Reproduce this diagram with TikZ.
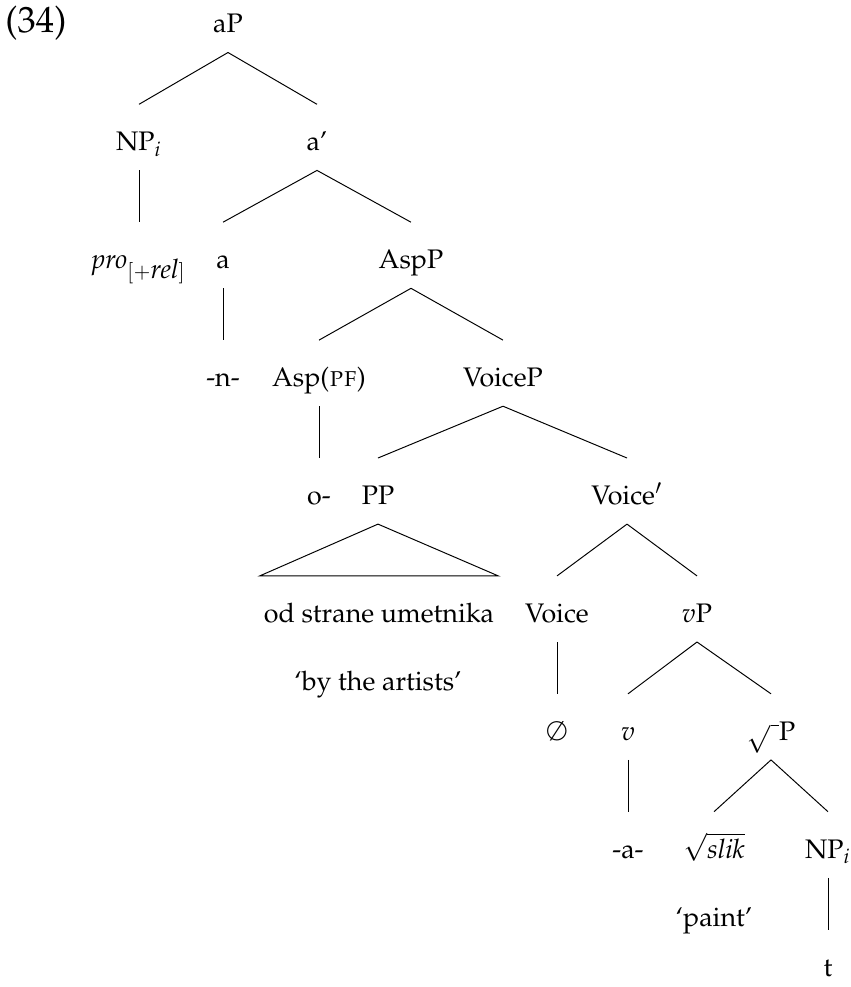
\documentclass[tikz,border=0pt]{standalone}
\usepackage[T1]{fontenc}
\usepackage{mathpazo}
\begin{document}
\begin{tikzpicture}[x=0.41pt,y=-0.41pt,
  lab/.style={anchor=base,inner xsep=1.5pt,inner ysep=5pt,
    text height=13.9pt,text depth=2.8pt,font=\fontsize{11}{13}\selectfont},
  plain/.style={anchor=base,inner sep=0pt,font=\fontsize{11}{13}\selectfont},
  branch/.style={line width=0.4pt}]
\useasboundingbox (0,0) rectangle (850,987);
% level baselines
\def\la{33}\def\lb{150.9}\def\lc{268.8}\def\ld{386.7}\def\le{504.6}
\def\lf{622.5}\def\lg{740.4}\def\lh{858.3}\def\li{976.2}
\node[plain,anchor=base west,font=\fontsize{15}{18}\selectfont] (num) at (5,\la) {(34)};
\node[lab] (aP) at (228,\la) {aP};
\node[lab] (NPi) at (139,\lb) {NP$_i$};
\node[lab] (abar) at (317,\lb) {a'};
\node[lab] (pro) at (139,\lc) {\textit{pro}$_{[+\textit{rel}]}$};
\node[lab] (a) at (223,\lc) {a};
\node[lab] (AspP) at (411,\lc) {AspP};
\node[lab] (n) at (223,\ld) {-n-};
\node[lab] (Asp) at (319,\ld) {Asp(\textsc{pf})};
\node[lab] (VoiceP) at (503,\ld) {VoiceP};
\node[lab] (o) at (319,\le) {o-};
\node[lab] (PP) at (378,\le) {PP};
\node[lab] (Voicebar) at (627,\le) {Voice$'$};
\node[lab] (od) at (379,\lf) {od strane umetnika};
\node[plain] (odgloss) at (378,690) {`by the artists'};
\node[lab] (Voice) at (557,\lf) {Voice};
\node[lab] (vP) at (697,\lf) {$v$P};
\node[lab] (null) at (557,\lg) {$\emptyset$};
\node[lab] (v) at (628,\lg) {$v$};
\node[lab] (rootP) at (771,\lg) {$\sqrt{\hspace{3.5pt}}$P};
\node[lab] (av) at (628,\lh) {-a-};
\node[lab] (slik) at (714,\lh) {$\sqrt{\textit{slik}}$};
\node[lab] (NPt) at (828,\lh) {NP$_i$};
\node[plain] (sgloss) at (714,926) {`paint'};
\node[lab] (t) at (828,\li) {t};
% branches
\draw[branch] (aP.south) -- (NPi.north);
\draw[branch] (aP.south) -- (abar.north);
\draw[branch] (NPi.south) -- (pro.north);
\draw[branch] (abar.south) -- (a.north);
\draw[branch] (abar.south) -- (AspP.north);
\draw[branch] (a.south) -- (n.north);
\draw[branch] (AspP.south) -- (Asp.north);
\draw[branch] (AspP.south) -- (VoiceP.north);
\draw[branch] (Asp.south) -- (o.north);
\draw[branch] (VoiceP.south) -- (PP.north);
\draw[branch] (VoiceP.south) -- (Voicebar.north);
\draw[branch] (PP.south) -- (od.north west) -- (od.north east) -- cycle;
\draw[branch] (Voicebar.south) -- (Voice.north);
\draw[branch] (Voicebar.south) -- (vP.north);
\draw[branch] (Voice.south) -- (null.north);
\draw[branch] (vP.south) -- (v.north);
\draw[branch] (vP.south) -- (rootP.north);
\draw[branch] (v.south) -- (av.north);
\draw[branch] (rootP.south) -- (slik.north);
\draw[branch] (rootP.south) -- (NPt.north);
\draw[branch] (NPt.south) -- (t.north);
\end{tikzpicture}
\end{document}
